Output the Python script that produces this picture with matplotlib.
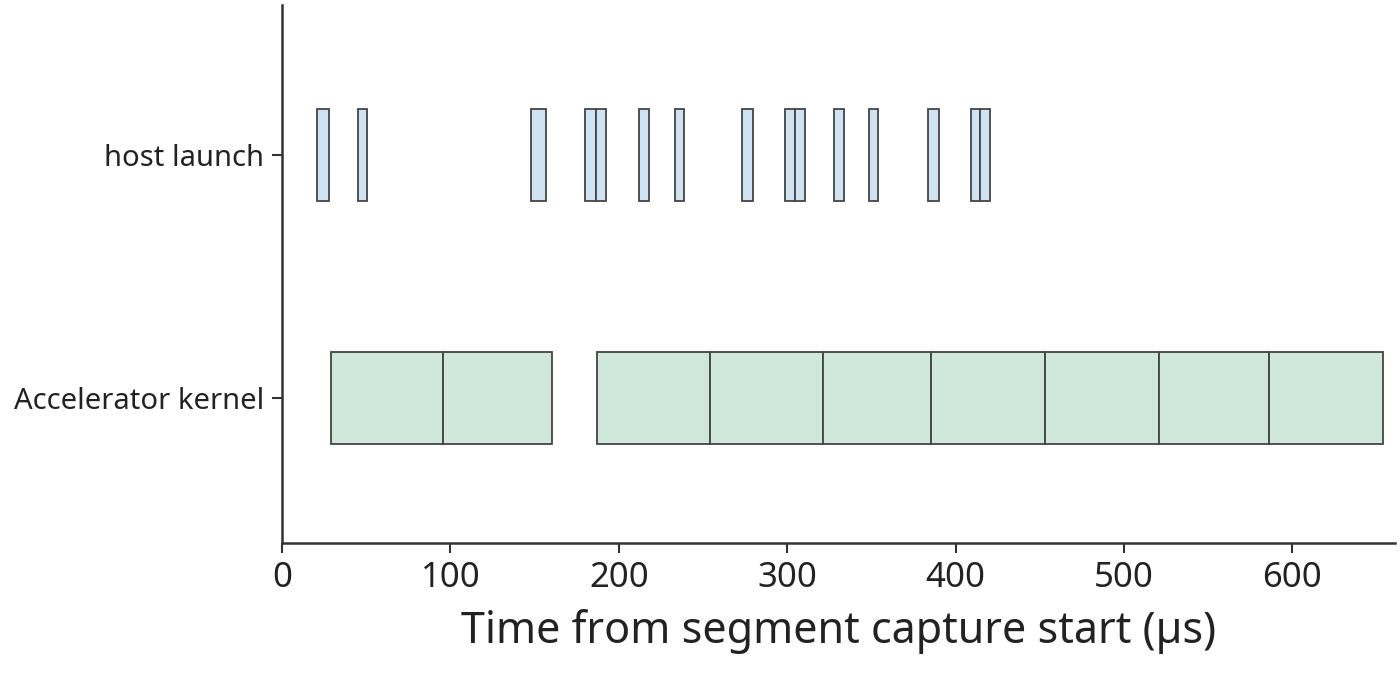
import matplotlib.pyplot as plt

plt.rcParams['font.family'] = ['Noto Sans', 'DejaVu Sans']

lanes = ['Accelerator kernel', 'host launch']

host_start = [20.6, 45.0, 147.9, 180.0, 186.7, 212.1, 233.5, 273.1, 298.9, 304.5,
              327.8, 348.6, 383.7, 409.1, 414.6]
host_end = [28.1, 50.7, 157.0, 186.7, 192.7, 217.8, 238.9, 279.5, 304.5, 310.6,
            333.8, 354.0, 390.3, 414.6, 420.2]

kern_start = [29.1, 95.7, 187.3, 253.9, 321.1, 385.3, 453.1, 520.9, 586.3]
kern_end = [95.7, 160.6, 253.9, 321.1, 385.3, 453.1, 520.9, 586.3, 654.1]

fig = plt.figure(figsize=(14, 6.75), dpi=100)
ax = fig.add_axes([282 / 1400, 132 / 675, 1113 / 1400, 538 / 675])

ax.barh([1] * len(host_start), [e - s for s, e in zip(host_start, host_end)],
        left=host_start, height=0.38, color='#cfe3f3', edgecolor='#444444', linewidth=1.3)
ax.barh([0] * len(kern_start), [e - s for s, e in zip(kern_start, kern_end)],
        left=kern_start, height=0.38, color='#d0e7dc', edgecolor='#444444', linewidth=1.3)

ax.set_xlim(0, 661)
ax.set_ylim(-0.6, 1.62)
ax.set_yticks([0, 1])
ax.set_yticklabels(lanes, fontsize=21, color='#222222')
ax.set_xticks(range(0, 700, 100))
ax.tick_params(axis='x', labelsize=25, length=7, width=1.5, color='#333333',
               labelcolor='#222222', pad=6)
ax.tick_params(axis='y', length=7, width=1.5, color='#333333', pad=6)
ax.set_xlabel('Time from segment capture start (µs)', fontsize=31, color='#222222',
              labelpad=10)
for s in ['top', 'right']:
    ax.spines[s].set_visible(False)
for s in ['left', 'bottom']:
    ax.spines[s].set_linewidth(1.8)
    ax.spines[s].set_color('#333333')

fig.savefig('out.png')
